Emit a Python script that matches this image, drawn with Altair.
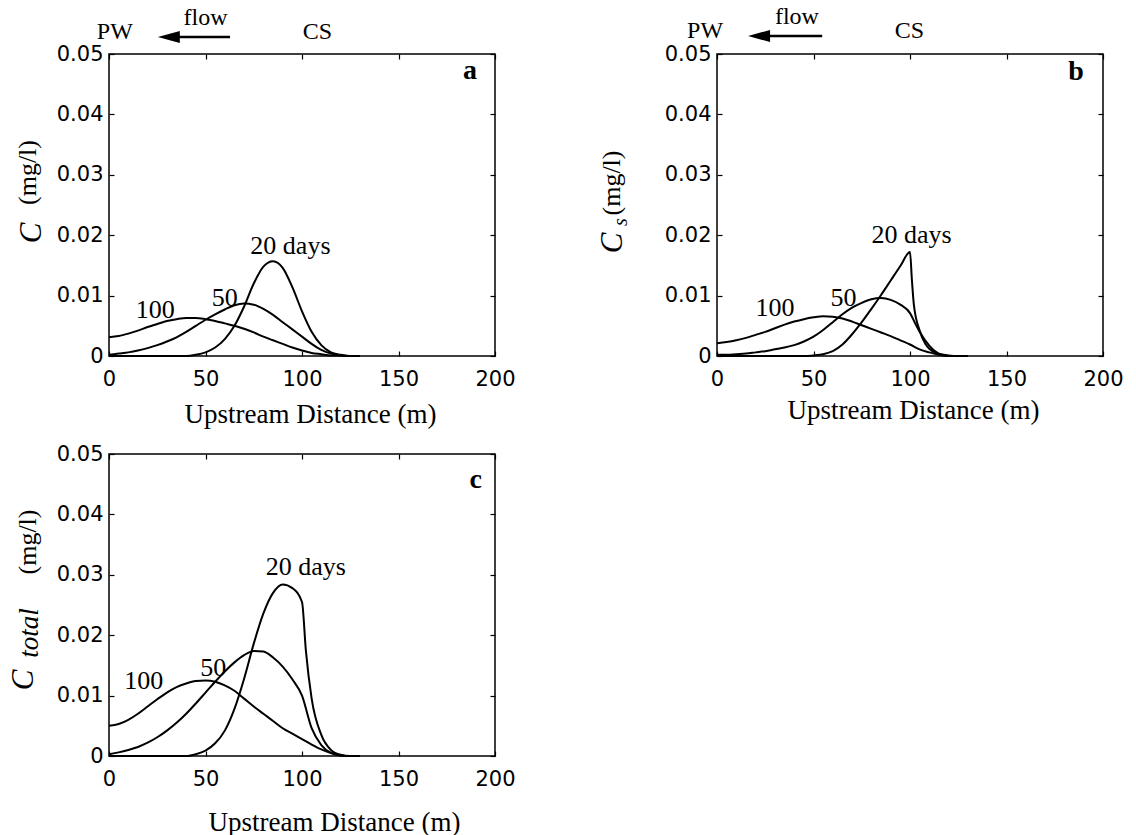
import altair as alt
import pandas as pd

# ---- concentration profiles (mg/l) versus upstream distance (m) ----
# panel a: dissolved concentration C
a20_x = [0, 35, 40, 45, 50, 55, 60, 65, 70, 75, 80, 85, 90, 95, 100, 105, 110, 115, 120, 125, 130]
a20_c = [0, 0, 0.0000, 0.0002, 0.0006, 0.0014, 0.0028, 0.0050, 0.0082, 0.0120, 0.0148, 0.0157,
         0.0146, 0.0114, 0.0074, 0.0040, 0.0018, 0.0006, 0.0002, 0, 0]
a50_x = [0, 5, 10, 15, 20, 25, 30, 35, 40, 45, 50, 55, 60, 65, 70, 75, 80, 85, 90, 95, 100,
         105, 110, 115, 120, 125, 130]
a50_c = [0.0002, 0.0004, 0.0006, 0.0009, 0.0013, 0.0018, 0.0024, 0.0031, 0.0040, 0.0050, 0.0060,
         0.0069, 0.0077, 0.0084, 0.0087, 0.0085, 0.0078, 0.0068, 0.0056, 0.0044, 0.0032, 0.0020,
         0.0010, 0.0004, 0.0001, 0, 0]
a100_x = [0, 5, 10, 15, 20, 25, 30, 35, 40, 45, 50, 55, 60, 65, 70, 75, 80, 85, 90, 95, 100,
          105, 110, 115, 120, 125, 130]
a100_c = [0.0031, 0.0033, 0.0037, 0.0042, 0.0048, 0.0053, 0.0058, 0.0061, 0.0063, 0.0063, 0.0061,
          0.0058, 0.0054, 0.0050, 0.0045, 0.0039, 0.0032, 0.0026, 0.0020, 0.0014, 0.0009, 0.0005,
          0.0003, 0.0001, 0.0001, 0, 0]

# panel b: sorbed concentration Cs
b20_x = [0, 40, 45, 50, 55, 60, 65, 70, 75, 80, 85, 90, 95, 100, 101, 102, 105, 108, 110, 115, 120, 130]
b20_c = [0, 0, 0.0000, 0.0001, 0.0003, 0.0008, 0.0019, 0.0036, 0.0056, 0.0078, 0.0101, 0.0125,
         0.0149, 0.0172, 0.0125, 0.0085, 0.0042, 0.0020, 0.0012, 0.0003, 0, 0]
b50_x = [0, 5, 10, 15, 20, 25, 30, 35, 40, 45, 50, 55, 60, 65, 70, 75, 80, 85, 90, 95, 100,
         103, 105, 110, 115, 120, 125, 130]
b50_c = [0.0002, 0.0002, 0.0003, 0.0004, 0.0006, 0.0008, 0.0011, 0.0014, 0.0018, 0.0024, 0.0032,
         0.0043, 0.0056, 0.0069, 0.0080, 0.0088, 0.0094, 0.0096, 0.0093, 0.0085, 0.0071, 0.0052,
         0.0040, 0.0017, 0.0004, 0.0001, 0, 0]
b100_x = [0, 5, 10, 15, 20, 25, 30, 35, 40, 45, 50, 55, 60, 65, 70, 75, 80, 85, 90, 95, 100,
          105, 110, 115, 120, 130]
b100_c = [0.0021, 0.0023, 0.0026, 0.0030, 0.0035, 0.0040, 0.0046, 0.0052, 0.0057, 0.0061, 0.0064,
          0.0066, 0.0065, 0.0062, 0.0057, 0.0051, 0.0045, 0.0039, 0.0033, 0.0026, 0.0019, 0.0011,
          0.0006, 0.0002, 0, 0]

# panel c: total concentration C_total
c20_x = [0, 40, 45, 50, 55, 60, 65, 70, 75, 80, 85, 90, 95, 100, 102, 105, 110, 115, 120, 125, 130]
c20_c = [0, 0, 0.0003, 0.0009, 0.0021, 0.0042, 0.0078, 0.0128, 0.0186, 0.0236, 0.0270, 0.0284,
         0.0278, 0.0255, 0.0175, 0.0095, 0.0035, 0.0010, 0.0002, 0, 0]
c50_x = [0, 5, 10, 15, 20, 25, 30, 35, 40, 45, 50, 55, 60, 65, 70, 75, 80, 85, 90, 95, 100,
         105, 110, 115, 120, 125, 130]
c50_c = [0.0003, 0.0006, 0.0010, 0.0015, 0.0022, 0.0031, 0.0042, 0.0055, 0.0070, 0.0087, 0.0105,
         0.0123, 0.0140, 0.0155, 0.0167, 0.0174, 0.0173, 0.0163, 0.0148, 0.0127, 0.0100, 0.0046,
         0.0018, 0.0005, 0.0001, 0, 0]
c100_x = [0, 5, 10, 15, 20, 25, 30, 35, 40, 45, 50, 55, 60, 65, 70, 75, 80, 85, 90, 95, 100,
          105, 110, 115, 120, 125, 130]
c100_c = [0.0050, 0.0053, 0.0060, 0.0070, 0.0082, 0.0094, 0.0105, 0.0114, 0.0120, 0.0124, 0.0125,
          0.0123, 0.0117, 0.0108, 0.0095, 0.0082, 0.0070, 0.0058, 0.0046, 0.0037, 0.0028, 0.0019,
          0.0011, 0.0005, 0.0001, 0, 0]

CURVES = [
    ("a", "20", a20_x, a20_c), ("a", "50", a50_x, a50_c), ("a", "100", a100_x, a100_c),
    ("b", "20", b20_x, b20_c), ("b", "50", b50_x, b50_c), ("b", "100", b100_x, b100_c),
    ("c", "20", c20_x, c20_c), ("c", "50", c50_x, c50_c), ("c", "100", c100_x, c100_c),
]

# curve labels: (panel, text, distance, concentration)
CURVE_LABELS = [
    ("a", "20 days", 94, 0.0182), ("a", "50", 60, 0.0096), ("a", "100", 24, 0.0076),
    ("b", "20 days", 100.8, 0.0201), ("b", "50", 65.6, 0.0096), ("b", "100", 30, 0.0079),
    ("c", "20 days", 102, 0.0313), ("c", "50", 54, 0.0146), ("c", "100", 18, 0.0124),
]
PANEL_LETTERS = {"a": (187, 0.0472), "b": (186, 0.0470), "c": (190, 0.0457)}

X_TICKS = [0, 50, 100, 150, 200]
Y_TICKS = [0, 0.01, 0.02, 0.03, 0.04, 0.05]
X_TITLE = "Upstream Distance (m)"

# rotated y-axis title pieces: (text, style, size, x px, y px) relative to the plot area
Y_TITLES = {
    "a": [("C", "italic", 31, -77, 179), ("(mg/l)", "normal", 26, -81.5, 118.5)],
    "b": [("C", "italic", 31, -104, 189), ("s", "italic", 20, -96, 168),
          ("(mg/l)", "normal", 26, -105, 129)],
    "c": [("C", "italic", 31, -85, 226), ("total", "italic", 27, -79.5, 179),
          ("(mg/l)", "normal", 26, -81, 88)],
}
# x-axis title placement per panel (center x, baseline y) relative to the axis
X_TITLE_POS = {"a": (201, 66), "b": (196, 62), "c": (225, 74)}

# flow direction annotation above panels a and b: distances along x, offsets above the plot
FLOW = {
    "a": {"PW": 3, "flow": 50, "CS": 108, "head": 31, "tail": 62.7, "y_txt": -22, "y_flow": -36, "y_arrow": -17},
    "b": {"PW": -6.2, "flow": 41.4, "CS": 99.7, "head": 21.8, "tail": 54.5, "y_txt": -23, "y_flow": -37, "y_arrow": -18},
}

SERIF = "Liberation Serif"
SANS = "DejaVu Sans"
W, H = 386, 302

rows = [dict(panel=p, days=d, x=x, c=c)
        for p, d, xs, cs in CURVES for x, c in zip(xs, cs)]
df = pd.DataFrame(rows)
lab_df = pd.DataFrame(CURVE_LABELS, columns=["panel", "text", "x", "c"])

XS = alt.Scale(domain=[0, 200], nice=False, zero=False)
YS = alt.Scale(domain=[0, 0.05], nice=False, zero=False)


def tick_axis(orient, values):
    return alt.Axis(orient=orient, offset=-5, tickSize=5, values=values, labels=False,
                    domain=False, grid=False, title=None, tickColor="black", tickWidth=1.2)


def make_panel(p):
    d = df[df.panel == p]
    tx, ty = X_TITLE_POS[p]
    x_main = alt.Axis(orient="bottom", values=X_TICKS, tickSize=0, labelPadding=12,
                      labelFont=SANS, labelFontSize=21, labelColor="black", labelFlush=False,
                      labelOverlap=False, domain=False, grid=False, title=X_TITLE,
                      titleFont=SERIF, titleFontSize=27, titleFontWeight="normal",
                      titleColor="black", titleX=tx, titleY=ty, titleBaseline="alphabetic",
                      titleAlign="center")
    y_main = alt.Axis(orient="left", values=Y_TICKS, format=".2~f", tickSize=0, labelPadding=6,
                      labelFont=SANS, labelFontSize=21, labelColor="black", labelFlush=False,
                      labelOverlap=False, domain=False, grid=False, title=None)

    lines = alt.Chart(d).mark_line(interpolate="monotone", color="black", strokeWidth=2).encode(
        x=alt.X("x:Q", scale=XS, axis=x_main),
        y=alt.Y("c:Q", scale=YS, axis=y_main),
        detail="days:N",
    )
    ticks_bl = alt.Chart(d).mark_line(opacity=0).encode(
        x=alt.X("x:Q", scale=XS, axis=tick_axis("bottom", X_TICKS)),
        y=alt.Y("c:Q", scale=YS, axis=tick_axis("left", Y_TICKS)),
        detail="days:N",
    )
    ticks_tr = alt.Chart(d).mark_line(opacity=0).encode(
        x=alt.X("x:Q", scale=XS, axis=tick_axis("top", X_TICKS)),
        y=alt.Y("c:Q", scale=YS, axis=tick_axis("right", Y_TICKS)),
        detail="days:N",
    )
    labels = alt.Chart(lab_df[lab_df.panel == p]).mark_text(
        font=SERIF, fontSize=26, color="black", align="center", baseline="middle"
    ).encode(
        x=alt.X("x:Q", scale=XS, axis=None),
        y=alt.Y("c:Q", scale=YS, axis=None),
        text="text:N",
    )
    lx, ly = PANEL_LETTERS[p]
    letter = alt.Chart(pd.DataFrame({"x": [lx], "c": [ly], "t": [p]})).mark_text(
        font=SERIF, fontSize=28, fontWeight="bold", color="black", baseline="middle"
    ).encode(
        x=alt.X("x:Q", scale=XS, axis=None),
        y=alt.Y("c:Q", scale=YS, axis=None),
        text="t:N",
    )
    layers = [lines, ticks_bl, ticks_tr, labels, letter]

    for text, style, size, px, py in Y_TITLES[p]:
        layers.append(
            alt.Chart(pd.DataFrame({"t": [text]})).mark_text(
                font=SERIF, fontSize=size, fontStyle=style, angle=270, color="black",
                align="center", baseline="middle"
            ).encode(x=alt.value(px), y=alt.value(py), text="t:N")
        )

    if p in FLOW:
        f = FLOW[p]
        words = pd.DataFrame({"t": ["PW", "CS"], "x": [f["PW"], f["CS"]]})
        layers.append(
            alt.Chart(words).mark_text(font=SERIF, fontSize=24, color="black",
                                       align="center", baseline="middle").encode(
                x=alt.X("x:Q", scale=XS, axis=None), y=alt.value(f["y_txt"]), text="t:N")
        )
        layers.append(
            alt.Chart(pd.DataFrame({"t": ["flow"], "x": [f["flow"]]})).mark_text(
                font=SERIF, fontSize=24, color="black", align="center", baseline="middle").encode(
                x=alt.X("x:Q", scale=XS, axis=None), y=alt.value(f["y_flow"]), text="t:N")
        )
        layers.append(
            alt.Chart(pd.DataFrame({"x": [f["head"]], "x2": [f["tail"]]})).mark_rule(
                color="black", strokeWidth=2.5).encode(
                x=alt.X("x:Q", scale=XS, axis=None), x2="x2:Q", y=alt.value(f["y_arrow"]))
        )
        layers.append(
            alt.Chart(pd.DataFrame({"x": [f["head"]]})).mark_point(
                shape="M-1,0L1,-0.55L1,0.55Z", filled=True, size=484, color="black",
                opacity=1, strokeWidth=0).encode(
                x=alt.X("x:Q", scale=XS, axis=None), y=alt.value(f["y_arrow"]))
        )

    return alt.layer(*layers).properties(width=W, height=H).resolve_axis(
        x="independent", y="independent")


# with flush bounds the nested row counts as zero height, so the vertical
# spacing runs from the top of row one to the top of panel c
top_row = alt.hconcat(make_panel("a"), make_panel("b"), spacing=222, bounds="flush")
chart = alt.vconcat(top_row, make_panel("c"), spacing=400, bounds="flush").properties(
    padding={"left": 7, "top": 4, "right": 5, "bottom": 2},
    background="white",
).configure_view(stroke="black", strokeWidth=1.5)

chart.save("out.html", embed_options={"renderer": "svg", "actions": False})
